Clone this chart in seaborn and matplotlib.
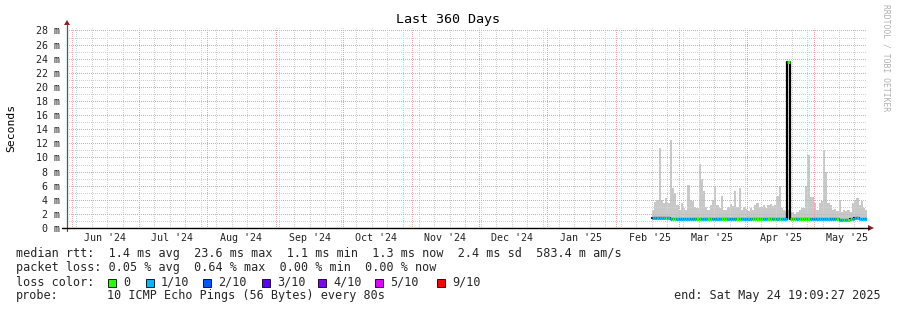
import matplotlib
matplotlib.use("Agg")
import matplotlib.pyplot as plt
import matplotlib.dates as mdates
from matplotlib.patches import Polygon, Rectangle
from matplotlib.lines import Line2D
import numpy as np
import pandas as pd
import seaborn as sns

# ---------------- data ----------------
TITLE = "Last 360 Days"
END_TIME = "2024-05-29 19:09:27", "2025-05-24 19:09:27"
FIRST_BIN = "2025-02-17 00:00"

smoke_max = [2.5, 3.7, 4.0, 11.4, 3.9, 3.5, 4.2, 3.5, 12.5, 5.6,
             5.0, 3.2, 2.5, 3.5, 2.8, 2.6, 6.1, 4.0, 3.8, 3.0,
             2.8, 9.1, 7.0, 5.3, 3.0, 2.6, 3.2, 4.0, 5.8, 3.2,
             2.8, 4.6, 2.6, 2.5, 3.0, 3.4, 3.1, 5.3, 3.0, 5.7,
             2.6, 3.0, 2.7, 2.4, 2.8, 2.6, 3.2, 3.6, 3.0, 3.0,
             3.3, 2.9, 3.2, 3.4, 3.1, 3.3, 4.5, 5.9, 2.9, 2.6,
             2.4, 2.5, 2.2, 2.3, 2.0, 2.2, 2.6, 2.9, 2.8, 6.0,
             10.3, 4.4, 4.4, 3.6, 2.6, 3.6, 3.8, 11.0, 8.0, 3.5,
             3.2, 2.5, 2.7, 2.4, 4.0, 2.3, 2.6, 2.4, 2.6, 2.3,
             3.5, 4.0, 4.2, 3.2, 3.8, 2.8, 2.6]
SMOKE_FLOOR = 1.1

median = [1.45, 1.45, 1.45, 1.45, 1.45, 1.45, 1.45, 1.45, 1.25, 1.25,
          1.25, 1.25, 1.25, 1.25, 1.25, 1.25, 1.25, 1.25, 1.25, 1.25,
          1.25, 1.25, 1.25, 1.25, 1.25, 1.25, 1.25, 1.25, 1.25, 1.25,
          1.25, 1.25, 1.25, 1.25, 1.25, 1.25, 1.25, 1.25, 1.25, 1.25,
          1.25, 1.25, 1.25, 1.25, 1.25, 1.25, 1.25, 1.25, 1.25, 1.25,
          1.25, 1.25, 1.25, 1.25, 1.25, 1.25, 1.25, 1.25, 1.25, 1.25,
          1.25, 23.6, 1.25, 1.25, 1.25, 1.25, 1.25, 1.25, 1.25, 1.25,
          1.25, 1.25, 1.25, 1.25, 1.25, 1.25, 1.25, 1.25, 1.25, 1.25,
          1.25, 1.25, 1.25, 1.25, 1.1, 1.1, 1.1, 1.1, 1.1, 1.25,
          1.25, 1.45, 1.45, 1.25, 1.25, 1.25, 1.25]

loss_tenths = [1, 1, 1, 1, 1, 1, 0, 1, 1, 0,
               0, 1, 1, 1, 1, 1, 1, 1, 1, 1,
               0, 0, 1, 1, 1, 0, 0, 1, 1, 1,
               1, 0, 0, 0, 1, 1, 1, 1, 0, 0,
               1, 1, 1, 1, 1, 0, 0, 0, 0, 0,
               1, 1, 0, 0, 1, 0, 1, 0, 1, 1,
               1, 0, 0, 0, 0, 1, 0, 0, 0, 0,
               0, 1, 1, 1, 1, 1, 1, 1, 1, 1,
               1, 1, 1, 0, 1, 1, 0, 1, 0, 0,
               1, 1, 1, 1, 1, 1, 1]

loss_labels = ["0", "1/10", "2/10", "3/10", "4/10", "5/10", "9/10"]
loss_colors = ["#26ff00", "#00b8ff", "#0059ff", "#5e00ff", "#7e00ff", "#dd00ff", "#ff0000"]

y_ticks = [0, 2, 4, 6, 8, 10, 12, 14, 16, 18, 20, 22, 24, 26, 28]

legend_lines = [
    "median rtt:  1.4 ms avg  23.6 ms max  1.1 ms min  1.3 ms now  2.4 ms sd  583.4 m am/s",
    "packet loss: 0.05 % avg  0.64 % max  0.00 % min  0.00 % now",
]
probe_label = "probe:"
probe_text = "10 ICMP Echo Pings (56 Bytes) every 80s"
end_text = "end: Sat May 24 19:09:27 2025"
credit = "RRDTOOL / TOBI OETIKER"

# ---------------- figure ----------------
W, H = 897, 310
sns.set_style("white")
plt.rcParams["font.family"] = ["DejaVu Sans Mono", "DejaVu Sans"]
fig = plt.figure(figsize=(W / 100, H / 100), dpi=100)


def fx(x):
    return x / W


def fy(y):
    return 1 - y / H


ax = fig.add_axes([fx(67), fy(228), 800 / W, 200 / H])
t0 = pd.Timestamp(END_TIME[0])
t1 = pd.Timestamp(END_TIME[1])
ax.set_xlim(mdates.date2num(t0), mdates.date2num(t1))
ax.set_ylim(0, 28.35)

starts = pd.date_range(FIRST_BIN, periods=len(smoke_max), freq="D")
ends = starts + pd.Timedelta(days=1)
xs = mdates.date2num(starts)
xe = mdates.date2num(ends)
x_edges = np.append(xs, xe[-1])

# smoke
ax.fill_between(x_edges, SMOKE_FLOOR, np.append(smoke_max, smoke_max[-1]),
                step="post", color="#c8c8c8", lw=0, zorder=2)

# grid (1px on / 1px off dotted, pixel-snapped)
dot = (0.5, (1, 1))
gkw = dict(lw=0.72, ls=dot, snap=True, dash_capstyle="butt")
GRID_MINOR = "#d2d2d2"
GRID_MAJOR = "#eda4a4"
for v in np.arange(1, 29, 1):
    if v % 2:
        ax.axhline(v, color=GRID_MINOR, zorder=2.5, **gkw)
    else:
        ax.axhline(v, color=GRID_MAJOR, zorder=2.6, **gkw)
month_starts = pd.date_range("2024-06-01", "2025-05-24", freq="MS")
for d in pd.date_range("2024-06-03", "2025-05-24", freq="W-MON"):
    if d.day == 1:
        continue
    ax.axvline(mdates.date2num(d), color=GRID_MINOR, zorder=2.5, **gkw)
for d in month_starts:
    ax.axvline(mdates.date2num(d), color=GRID_MAJOR, zorder=2.6, **gkw)

# median line (black step) then loss-coloured segments
df = pd.DataFrame({"t": x_edges, "median": np.append(median, median[-1])})
sns.lineplot(data=df, x="t", y="median", drawstyle="steps-post", color="black",
             lw=1.6, ax=ax, estimator=None, zorder=3)
cols = [loss_colors[v] for v in loss_tenths]
ax.hlines(median, xs, xe, colors=cols, lw=2.2, zorder=4)

# ticks
ax.set_yticks(y_ticks)
ax.set_yticklabels([f"{v} m" for v in y_ticks])
mids = month_starts + pd.Timedelta(days=15)
ax.set_xticks(mdates.date2num(mids))
ax.set_xticklabels([d.strftime("%b '%y") for d in mids])
ax.tick_params(axis="both", length=0, labelsize=7.2, colors="#222222")
ax.tick_params(axis="y", pad=5)
ax.tick_params(axis="x", pad=3.5)
ax.set_xlabel("")
ax.set_ylabel("")
for s in ax.spines.values():
    s.set_visible(False)
ax.grid(False)

# axis lines & arrows (figure level)
fig.add_artist(Line2D([fx(67), fx(67)], [fy(231), fy(24)], color="#555555", lw=0.9))
fig.add_artist(Line2D([fx(62), fx(869)], [fy(228), fy(228)], color="black", lw=1.0))
fig.add_artist(Polygon([[fx(64), fy(25)], [fx(70), fy(25)], [fx(67), fy(20)]],
                       closed=True, color="#8b2020", lw=0))
fig.add_artist(Polygon([[fx(868), fy(225)], [fx(868), fy(231)], [fx(874), fy(228)]],
                       closed=True, color="#8b2020", lw=0))

# titles
fig.text(fx(448), fy(19), TITLE, ha="center", va="center", fontsize=9.6, color="black")
fig.text(fx(11), fy(128), "Seconds", ha="center", va="center", rotation=90,
         fontsize=8.2, color="black")
fig.text(fx(886), fy(4), credit, ha="center", va="top", rotation=-90,
         fontsize=5.8, color="#b0b0b0")

# legend
FS = 8.5
fig.text(fx(16), fy(254), legend_lines[0], ha="left", va="center", fontsize=FS)
fig.text(fx(16), fy(268), legend_lines[1], ha="left", va="center", fontsize=FS)
fig.text(fx(16), fy(282), "loss color:", ha="left", va="center", fontsize=FS)
box_x = [108, 146, 203, 262, 318, 375, 437]
for bx, lab, c in zip(box_x, loss_labels, loss_colors):
    fig.add_artist(Rectangle((fx(bx), fy(287)), 8 / W, 8 / H, facecolor=c,
                             edgecolor="black", lw=0.6))
    fig.text(fx(bx + 15), fy(282), lab, ha="left", va="center", fontsize=FS)
fig.text(fx(16), fy(296), probe_label, ha="left", va="center", fontsize=FS)
fig.text(fx(107), fy(296), probe_text, ha="left", va="center", fontsize=FS)
fig.text(fx(881), fy(296), end_text, ha="right", va="center", fontsize=FS)

fig.savefig("out.png", dpi=100)
